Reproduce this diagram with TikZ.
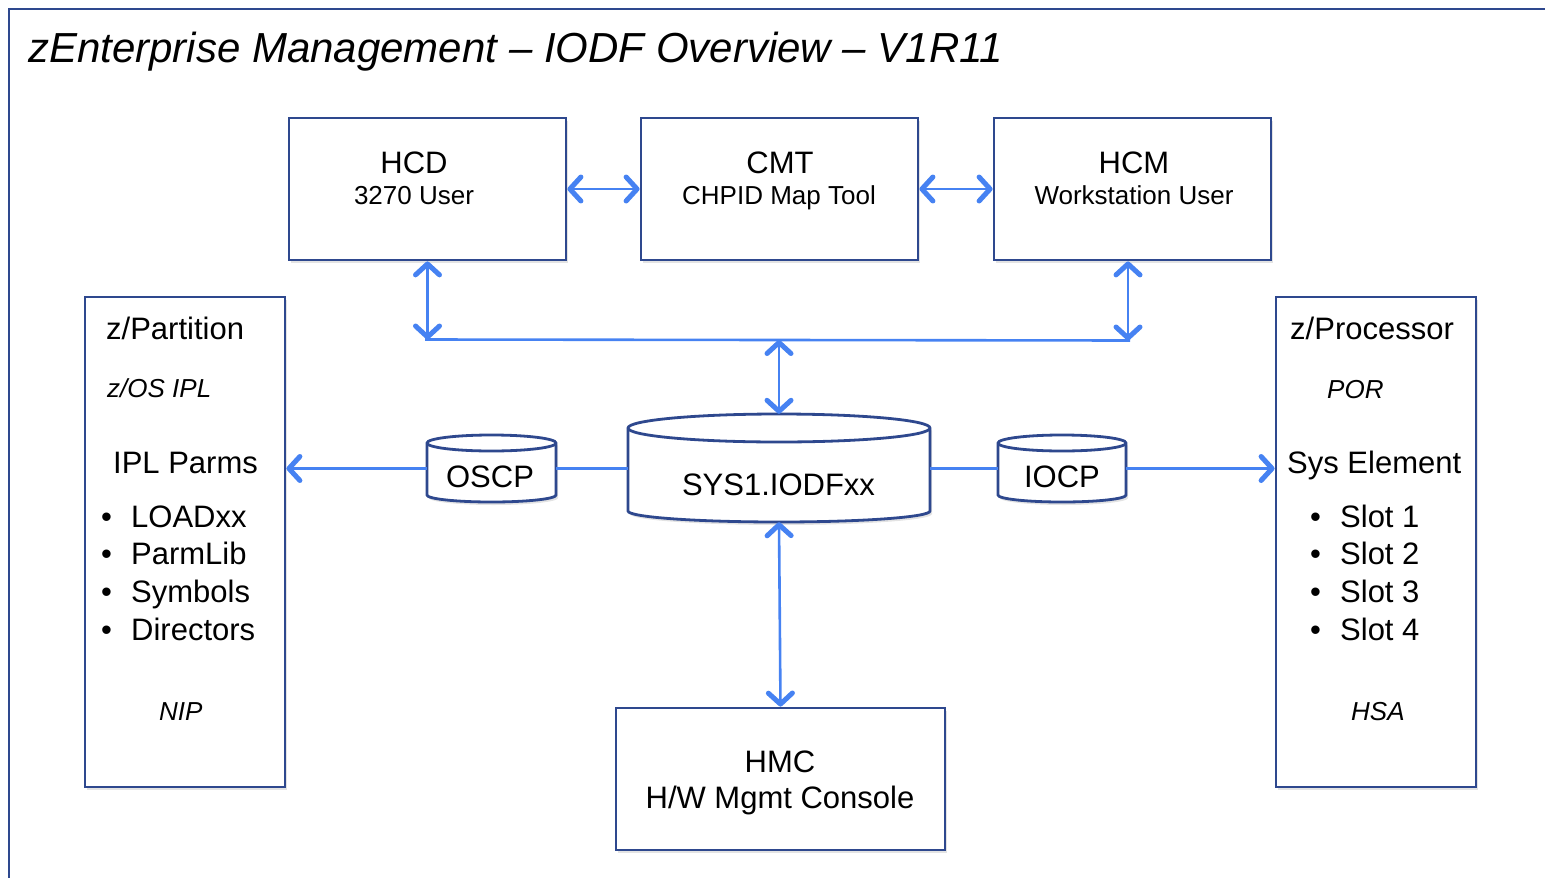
\documentclass[tikz,border=0pt]{standalone}
\usepackage{fontspec}
\setmainfont{Liberation Sans}
\usetikzlibrary{arrows.meta,shadows}

\definecolor{framenavy}{RGB}{46,72,142}
\definecolor{linkblue}{RGB}{70,130,242}

\begin{document}
\begin{tikzpicture}[x=1pt,y=-1pt,
		box_style/.style={draw=framenavy,line width=2.8pt,fill=white,inner sep=0pt,
			drop shadow={shadow xshift=2pt,shadow yshift=-3pt,opacity=.22}},
		cyl_style/.style={draw=framenavy,line width=2.8pt,fill=white,
			drop shadow={shadow xshift=2pt,shadow yshift=-3pt,opacity=.22}},
		hold_style/.style={inner sep=0pt},
		edge_style/.style={draw=linkblue,line width=2.6pt},
		big_text/.style={font=\fontsize{31}{37}\selectfont,inner sep=0pt},
		small_text/.style={font=\fontsize{26}{31}\selectfont,inner sep=0pt},
		>={Straight Barb[length=11pt,width=24pt,line width'=5pt,round]}]

		\useasboundingbox (0,0) rectangle (1545,878);
		\clip (0,0) rectangle (1545,878);

		% frame and title
		\draw[draw=framenavy,line width=2.4pt] (9,950) -- (9,9) -- (1600,9);
		\node[font=\fontsize{42}{50}\selectfont\itshape,inner sep=0pt,anchor=base west] (title) at (28,62)
			{zEnterprise Management – IODF Overview – V1R11};

		% boxes
		\node[box_style,minimum width=277pt,minimum height=142pt] (hcd) at (427.5,189) {};
		\node[box_style,minimum width=277pt,minimum height=142pt] (cmt) at (779.5,189) {};
		\node[box_style,minimum width=277pt,minimum height=142pt] (hcm) at (1132.5,189) {};
		\node[box_style,minimum width=200pt,minimum height=490pt] (part) at (185,542) {};
		\node[box_style,minimum width=200pt,minimum height=490pt] (proc) at (1376,542) {};
		\node[box_style,minimum width=329pt,minimum height=142pt] (hmc) at (780.5,779) {};

		% data sets
		\node[hold_style,minimum width=129pt,minimum height=67pt] (oscp) at (491.5,468.5) {};
		\node[hold_style,minimum width=302pt,minimum height=108pt] (iodf) at (779,468) {};
		\node[hold_style,minimum width=128pt,minimum height=67pt] (iocp) at (1062,468.5) {};

		\draw[cyl_style] (427,443) -- (427,495) arc[start angle=180,end angle=360,x radius=64.5pt,y radius=7pt]
			-- (556,443) arc[start angle=0,end angle=180,x radius=64.5pt,y radius=8pt] -- cycle;
		\draw[draw=framenavy,line width=2.8pt] (427,443) arc[start angle=180,end angle=360,x radius=64.5pt,y radius=8pt];
		\draw[cyl_style] (628,428) -- (628,511) arc[start angle=180,end angle=360,x radius=151pt,y radius=11pt]
			-- (930,428) arc[start angle=0,end angle=180,x radius=151pt,y radius=14pt] -- cycle;
		\draw[draw=framenavy,line width=2.8pt] (628,428) arc[start angle=180,end angle=360,x radius=151pt,y radius=14pt];
		\draw[cyl_style] (998,443) -- (998,495) arc[start angle=180,end angle=360,x radius=64pt,y radius=7pt]
			-- (1126,443) arc[start angle=0,end angle=180,x radius=64pt,y radius=8pt] -- cycle;
		\draw[draw=framenavy,line width=2.8pt] (998,443) arc[start angle=180,end angle=360,x radius=64pt,y radius=8pt];

		% texts
		\node[big_text,anchor=base] (hcd1) at (414,173) {HCD};
		\node[small_text,anchor=base] (hcd2) at (414,204) {3270 User};
		\node[big_text,anchor=base] (cmt1) at (780,173) {CMT};
		\node[small_text,anchor=base] (cmt2) at (779,204) {CHPID Map Tool};
		\node[big_text,anchor=base] (hcm1) at (1134,173) {HCM};
		\node[small_text,anchor=base] (hcm2) at (1134,204) {Workstation User};
		\node[big_text,anchor=base] (hmc1) at (780,772) {HMC};
		\node[big_text,anchor=base] (hmc2) at (780,808) {H/W Mgmt Console};

		\node[big_text,anchor=base] (oscp1) at (490,487) {OSCP};
		\node[big_text,anchor=base] (iodf1) at (778.5,495) {SYS1.IODFxx};
		\node[big_text,anchor=base] (iocp1) at (1062,487) {IOCP};

		\node[big_text,anchor=base west] (part1) at (106,339) {z/Partition};
		\node[small_text,anchor=base west] (part2) at (107,397) {\itshape z/OS IPL};
		\node[big_text,anchor=base west] (part3) at (113,473) {IPL Parms};
		\node[big_text,anchor=base west] (part4) at (101,527) {\makebox[30pt][l]{\textbullet}LOADxx};
		\node[big_text,anchor=base west] (part5) at (101,564) {\makebox[30pt][l]{\textbullet}ParmLib};
		\node[big_text,anchor=base west] (part6) at (101,602) {\makebox[30pt][l]{\textbullet}Symbols};
		\node[big_text,anchor=base west] (part7) at (101,640) {\makebox[30pt][l]{\textbullet}Directors};
		\node[small_text,anchor=base west] (part8) at (159,720) {\itshape NIP};

		\node[big_text,anchor=base west] (proc1) at (1290,339) {z/Processor};
		\node[small_text,anchor=base west] (proc2) at (1327,398) {\itshape POR};
		\node[big_text,anchor=base west] (proc3) at (1287,473) {Sys Element};
		\node[big_text,anchor=base west] (proc4) at (1310,527) {\makebox[30pt][l]{\textbullet}Slot 1};
		\node[big_text,anchor=base west] (proc5) at (1310,564) {\makebox[30pt][l]{\textbullet}Slot 2};
		\node[big_text,anchor=base west] (proc6) at (1310,602) {\makebox[30pt][l]{\textbullet}Slot 3};
		\node[big_text,anchor=base west] (proc7) at (1310,640) {\makebox[30pt][l]{\textbullet}Slot 4};
		\node[small_text,anchor=base west] (proc8) at (1351,720) {\itshape HSA};

		% connectors
		\coordinate (busl) at (425,339.5);
		\coordinate (busm) at (779,340);
		\coordinate (busr) at (1130,340.5);

		\draw[edge_style] (busl) -- (busr);
		\draw[edge_style,<->] (hcd.east) -- (cmt.west);
		\draw[edge_style,<->] (cmt.east) -- (hcm.west);
		\draw[edge_style,<->] (hcd.south) -- (hcd.south |- busl);
		\draw[edge_style,<->] ([xshift=-4.5pt]hcm.south) -- ([xshift=-4.5pt]hcm.south |- busr);
		\draw[edge_style,<->] (busm) -- (iodf.north);
		\draw[edge_style,<->] (iodf.south) -- (hmc.north);
		\draw[edge_style,->] (oscp.west) -- (part.east |- oscp.west);
		\draw[edge_style] (oscp.east) -- (iodf.west |- oscp.east);
		\draw[edge_style] (iodf.east |- iocp.west) -- (iocp.west);
		\draw[edge_style,->] (iocp.east) -- (proc.west |- iocp.east);
		\end{tikzpicture}
\end{document}
